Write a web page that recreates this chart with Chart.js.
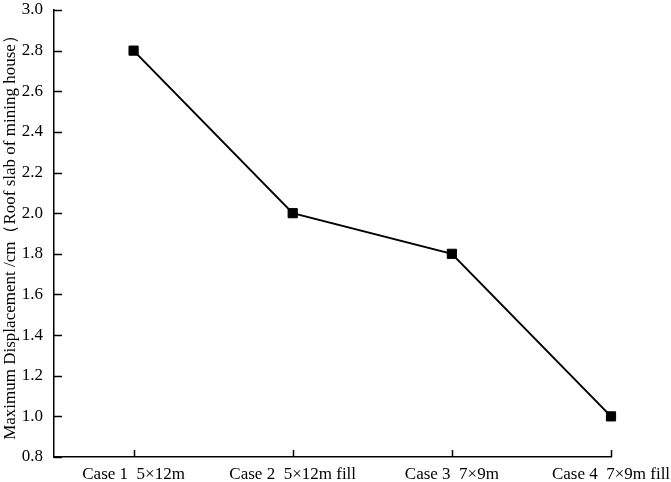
<!DOCTYPE html>
<html>
<head>
<meta charset="utf-8">
<script src="https://cdn.jsdelivr.net/npm/chart.js@4/dist/chart.umd.min.js"></script>
<style>
html,body{margin:0;padding:0;background:#fff;}
#wrap{width:671px;height:482px;position:relative;}
</style>
</head>
<body>
<div id="wrap"><canvas id="c"></canvas></div>
<script>
const categories = ["Case 1  5×12m", "Case 2  5×12m fill", "Case 3  7×9m", "Case 4  7×9m fill"];
const displacement = [2.8, 2.0, 1.8, 1.0];
const yTicks = [0.8, 1.0, 1.2, 1.4, 1.6, 1.8, 2.0, 2.2, 2.4, 2.6, 2.8, 3.0];
const yTitle = "Maximum Displacement /cm（Roof slab of mining house）";

const FONT = "'Times New Roman', 'Liberation Serif', 'DejaVu Serif', serif";

const inwardTicks = {
  id: 'inwardTicks',
  afterDatasetsDraw(chart) {
    const ctx = chart.ctx;
    const xs = chart.scales.x, ys = chart.scales.y;
    const a = chart.chartArea;
    ctx.save();
    ctx.strokeStyle = '#000';
    ctx.lineWidth = 1.5;
    xs.ticks.forEach(t => {
      const px = Math.round(xs.getPixelForValue(t.value)) + 0.5;
      ctx.beginPath(); ctx.moveTo(px, a.bottom); ctx.lineTo(px, a.bottom - 7); ctx.stroke();
    });
    ys.ticks.forEach(t => {
      const py = Math.round(ys.getPixelForValue(t.value)) + 0.5;
      ctx.beginPath(); ctx.moveTo(a.left, py); ctx.lineTo(a.left + 8, py); ctx.stroke();
    });
    ctx.restore();
  }
};

new Chart(document.getElementById('c'), {
  type: 'line',
  data: {
    datasets: [{
      data: displacement.map((v, i) => ({x: i, y: v})),
      borderColor: '#000',
      borderWidth: 2,
      backgroundColor: '#000',
      pointStyle: 'rect',
      pointRadius: 6.5,
      pointBorderWidth: 1,
      pointBorderColor: '#000',
      pointBackgroundColor: '#000',
      tension: 0,
      clip: false
    }]
  },
  options: {
    responsive: true,
    maintainAspectRatio: false,
    animation: false,
    layout: {padding: {top: 10, right: 60, left: 0, bottom: 0}},
    plugins: {legend: {display: false}, tooltip: {enabled: false}},
    scales: {
      x: {
        type: 'linear',
        min: -0.5,
        max: 3,
        afterBuildTicks: s => { s.ticks = categories.map((c, i) => ({value: i})); },
        afterFit: s => { s.height = 25; s.paddingLeft = 0; s.paddingRight = 0; },
        grid: {display: false, drawTicks: false},
        border: {display: true, color: '#000', width: 1.5},
        ticks: {
          color: '#000',
          font: {family: FONT, size: 17},
          padding: 7,
          maxRotation: 0,
          autoSkip: false,
          callback: v => categories[v]
        }
      },
      y: {
        type: 'linear',
        min: 0.8,
        max: 3.0,
        afterBuildTicks: s => { s.ticks = yTicks.map(v => ({value: v})); },
        afterFit: s => { s.width = 54; s.paddingTop = 0; s.paddingBottom = 0; },
        grid: {display: false, drawTicks: false},
        border: {display: true, color: '#000', width: 1.5},
        title: {
          display: true,
          text: yTitle,
          color: '#000',
          font: {family: FONT, size: 17},
          padding: {top: 0, bottom: 0}
        },
        ticks: {
          color: '#000',
          font: {family: FONT, size: 17},
          padding: 11,
          callback: v => v.toFixed(1)
        }
      }
    }
  },
  plugins: [inwardTicks]
});
</script>
</body>
</html>
